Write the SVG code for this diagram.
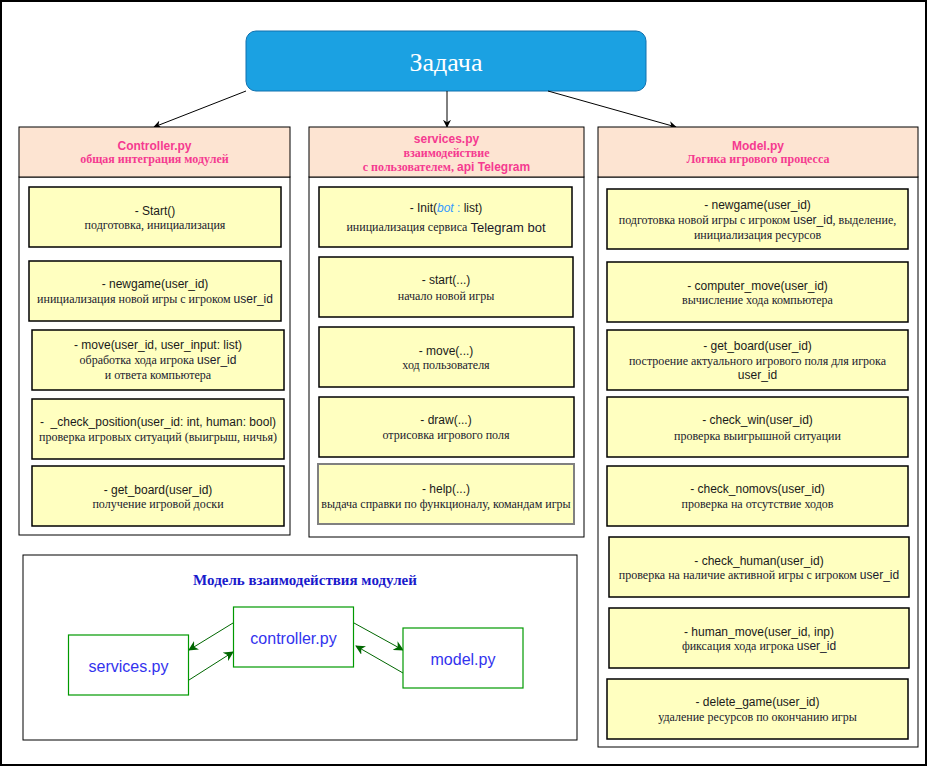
<svg xmlns="http://www.w3.org/2000/svg" width="928" height="767" viewBox="0 0 928 767">
<defs>
<marker id="ab" viewBox="0 0 10 10" refX="9" refY="5" markerWidth="8" markerHeight="8" orient="auto" markerUnits="userSpaceOnUse"><path d="M0,0 L10,5 L0,10 L3,5 z" fill="#000"/></marker>
<marker id="ag" viewBox="0 0 10 10" refX="9" refY="5" markerWidth="10" markerHeight="10" orient="auto" markerUnits="userSpaceOnUse"><path d="M0,0 L10,5 L0,10 L3,5 z" fill="#006600"/></marker>
</defs>
<style>
.hdr{fill:#fde4d2;stroke:#000;stroke-width:1}
.body{fill:#fff;stroke:#000;stroke-width:1}
.box{fill:#ffffc0;stroke:#000;stroke-width:1.5}
.box2{fill:#ffffc0;stroke:#808080;stroke-width:2}
.fn{font-family:"Liberation Sans",Arial,sans-serif;font-size:12px;fill:#1a1a1a;text-anchor:middle;dominant-baseline:central}
.ds{font-family:"Liberation Serif","Times New Roman",serif;font-size:12px;fill:#1a1a2e;text-anchor:middle;dominant-baseline:central}
.sans{font-family:"Liberation Sans",Arial,sans-serif}
.ht{font-family:"Liberation Sans",Arial,sans-serif;font-size:12px;font-weight:bold;fill:#f53a90;text-anchor:middle;dominant-baseline:central}
.hs{font-family:"Liberation Serif","Times New Roman",serif;font-size:12px;font-weight:bold;fill:#f53a90;text-anchor:middle;dominant-baseline:central}
.mb{fill:#fff;stroke:#009900;stroke-width:1.2}
.mt{font-family:"Liberation Sans",Arial,sans-serif;font-size:16px;fill:#3333ee;text-anchor:middle;dominant-baseline:central}
.conn{stroke:#000;stroke-width:1;fill:none}
.gconn{stroke:#006600;stroke-width:1;fill:none}
</style>
<rect x="1" y="1" width="925" height="764" fill="#fff" stroke="#000" stroke-width="2"/>

<g id="task">
<rect x="246" y="31" width="400" height="60" rx="10" ry="10" fill="#1ba1e2" stroke="#1171ae" stroke-width="1"/>
<text x="446" y="62" font-family="Liberation Serif,serif" font-size="26" fill="#fff" text-anchor="middle" dominant-baseline="central">Задача</text>
</g>

<g id="panel">
<rect x="23" y="555" width="554" height="185" fill="#fff" stroke="#000" stroke-width="1"/>
<text x="305" y="580" font-family="Liberation Serif,serif" font-size="15" font-weight="bold" fill="#1a1acc" text-anchor="middle" dominant-baseline="central">Модель взаимодействия модулей</text>
</g>

<g id="connectors">
<line class="conn" x1="246" y1="91" x2="154" y2="127" marker-end="url(#ab)"/>
<line class="conn" x1="447" y1="91" x2="447" y2="127" marker-end="url(#ab)"/>
<line class="conn" x1="548" y1="91" x2="676" y2="127" marker-end="url(#ab)"/>
<line class="gconn" x1="233" y1="623" x2="189" y2="650" marker-end="url(#ag)"/>
<line class="gconn" x1="189" y1="680" x2="233" y2="652" marker-end="url(#ag)"/>
<line class="gconn" x1="354" y1="623" x2="403" y2="650" marker-end="url(#ag)"/>
<line class="gconn" x1="403" y1="673" x2="356" y2="646" marker-end="url(#ag)"/>
</g>

<g id="controller">
<rect class="body" x="19" y="177" width="271" height="358"/>
<rect class="hdr" x="19" y="127" width="271" height="50"/>
<text class="ht" x="154.5" y="146">Controller.py</text>
<text class="hs" x="154.5" y="159">общая интеграция модулей</text>
</g>
<g id="c-start">
<rect class="box" x="29" y="187" width="252" height="60"/>
<text class="fn" x="155" y="211">- Start()</text>
<text class="ds" x="155" y="225">подготовка, инициализация</text>
</g>
<g id="c-newgame">
<rect class="box" x="29" y="261" width="252" height="60"/>
<text class="fn" x="155" y="284">- newgame(user_id)</text>
<text class="ds" x="155" y="299">инициализация новой игры с игроком <tspan class="sans">user_id</tspan></text>
</g>
<g id="c-move">
<rect class="box" x="32" y="330" width="252" height="60"/>
<text class="fn" x="158" y="345">- move(user_id, user_input: list)</text>
<text class="ds" x="158" y="360">обработка хода игрока <tspan class="sans">user_id</tspan></text>
<text class="ds" x="158" y="375">и ответа компьютера</text>
</g>
<g id="c-check">
<rect class="box" x="32" y="399" width="252" height="60"/>
<text class="fn" x="158" y="422" xml:space="preserve">-  _check_position(user_id: int, human: bool)</text>
<text class="ds" x="158" y="437">проверка игровых ситуаций (выигрыш, ничья)</text>
</g>
<g id="c-board">
<rect class="box" x="32" y="466" width="252" height="60"/>
<text class="fn" x="158" y="490">- get_board(user_id)</text>
<text class="ds" x="158" y="504">получение игровой доски</text>
</g>

<g id="services">
<rect class="body" x="309" y="177" width="275" height="360"/>
<rect class="hdr" x="309" y="127" width="275" height="50"/>
<text class="ht" x="446.5" y="139">services.py</text>
<text class="hs" x="446.5" y="153">взаимодействие</text>
<text class="hs" x="446.5" y="167">с пользователем, <tspan class="sans">api Telegram</tspan></text>
</g>
<g id="s-init">
<rect class="box" x="319" y="187" width="253" height="60"/>
<text class="fn" x="446" y="208">- Init(<tspan fill="#3399ff" font-style="italic">bot </tspan><tspan fill="#3399ff">:</tspan> list)</text>
<text class="ds" x="446" y="227">инициализация сервиса <tspan class="sans" font-size="13">Telegram bot</tspan></text>
</g>
<g id="s-start">
<rect class="box" x="319" y="257" width="254" height="60"/>
<text class="fn" x="446" y="280">- start(...)</text>
<text class="ds" x="446" y="296">начало новой игры</text>
</g>
<g id="s-move">
<rect class="box" x="319" y="327" width="255" height="60"/>
<text class="fn" x="446" y="351">- move(...)</text>
<text class="ds" x="446" y="365">ход пользователя</text>
</g>
<g id="s-draw">
<rect class="box" x="319" y="397" width="255" height="60"/>
<text class="fn" x="446" y="420">- draw(...)</text>
<text class="ds" x="446" y="435">отрисовка игрового поля</text>
</g>
<g id="s-help">
<rect class="box2" x="318" y="464" width="256" height="60"/>
<text class="fn" x="446" y="489">- help(...)</text>
<text class="ds" x="446" y="504">выдача справки по функционалу, командам игры</text>
</g>

<g id="model">
<rect class="body" x="598" y="177" width="320" height="570"/>
<rect class="hdr" x="598" y="127" width="320" height="50"/>
<text class="ht" x="758" y="146">Model.py</text>
<text class="hs" x="758" y="159">Логика игрового процесса</text>
</g>
<g id="m-newgame">
<rect class="box" x="607" y="189" width="301" height="60"/>
<text class="fn" x="757.5" y="205">- newgame(user_id)</text>
<text class="ds" x="757.5" y="220">подготовка новой игры с игроком <tspan class="sans">user_id</tspan>, выделение,</text>
<text class="ds" x="757.5" y="235">инициализация ресурсов</text>
</g>
<g id="m-computer">
<rect class="box" x="607" y="262" width="301" height="60"/>
<text class="fn" x="757.5" y="286">- computer_move(user_id)</text>
<text class="ds" x="757.5" y="300">вычисление хода компьютера</text>
</g>
<g id="m-board">
<rect class="box" x="607" y="330" width="301" height="60"/>
<text class="fn" x="757.5" y="346">- get_board(user_id)</text>
<text class="ds" x="757.5" y="361">построение актуального игрового поля для игрока</text>
<text class="fn" x="757.5" y="375">user_id</text>
</g>
<g id="m-win">
<rect class="box" x="607" y="397" width="301" height="60"/>
<text class="fn" x="757.5" y="420">- check_win(user_id)</text>
<text class="ds" x="757.5" y="436">проверка выигрышной ситуации</text>
</g>
<g id="m-nomovs">
<rect class="box" x="607" y="466" width="301" height="60"/>
<text class="fn" x="757.5" y="489">- check_nomovs(user_id)</text>
<text class="ds" x="757.5" y="504">проверка на отсутствие ходов</text>
</g>
<g id="m-human">
<rect class="box" x="609" y="537" width="300" height="60"/>
<text class="fn" x="759" y="561">- check_human(user_id)</text>
<text class="ds" x="759" y="575">проверка на наличие активной игры с игроком <tspan class="sans">user_id</tspan></text>
</g>
<g id="m-hmove">
<rect class="box" x="609" y="608" width="300" height="60"/>
<text class="fn" x="759" y="632">- human_move(user_id, inp)</text>
<text class="ds" x="759" y="646">фиксация хода игрока <tspan class="sans">user_id</tspan></text>
</g>
<g id="m-delete">
<rect class="box" x="607" y="679" width="301" height="60"/>
<text class="fn" x="757.5" y="702">- delete_game(user_id)</text>
<text class="ds" x="757.5" y="717">удаление ресурсов по окончанию игры</text>
</g>

<g id="mod-controller">
<rect class="mb" x="233.5" y="607" width="120" height="60"/>
<text class="mt" x="293.5" y="638">controller.py</text>
</g>
<g id="mod-services">
<rect class="mb" x="68.5" y="635" width="120" height="60"/>
<text class="mt" x="128.5" y="666">services.py</text>
</g>
<g id="mod-model">
<rect class="mb" x="403" y="628" width="120" height="60"/>
<text class="mt" x="463" y="659">model.py</text>
</g>
</svg>
